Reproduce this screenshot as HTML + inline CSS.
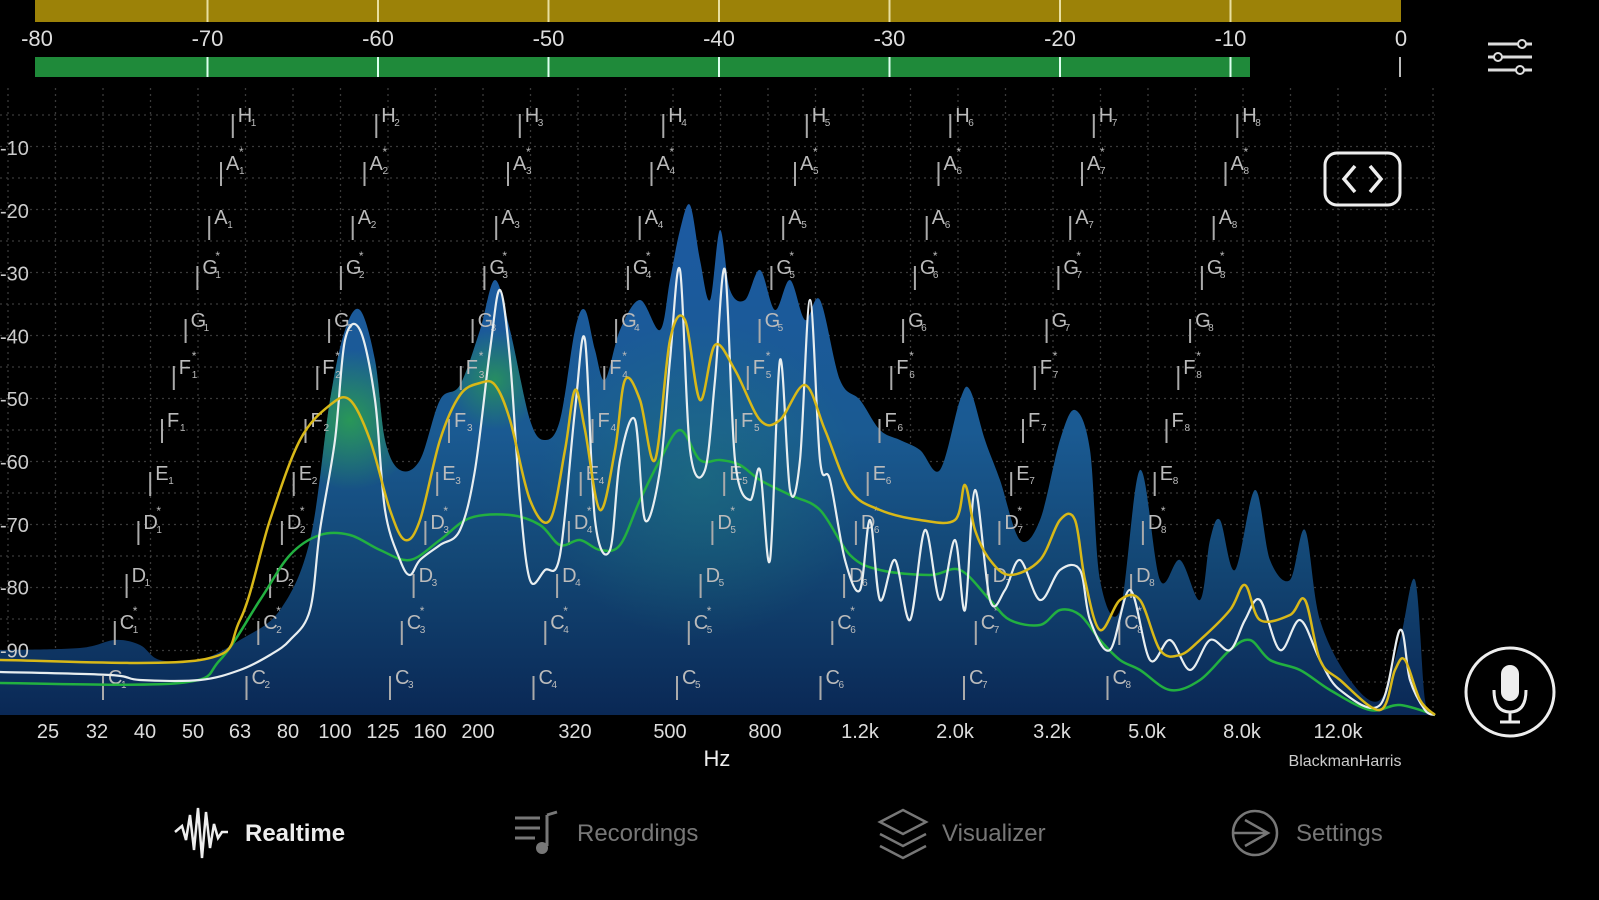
<!DOCTYPE html>
<html><head><meta charset="utf-8"><style>
html,body{margin:0;padding:0;background:#000;width:1599px;height:900px;overflow:hidden}
svg{display:block}
text{font-family:"Liberation Sans",sans-serif}
</style></head><body>
<svg id="s" width="1599" height="900" viewBox="0 0 1599 900" xmlns="http://www.w3.org/2000/svg">
<defs>
<linearGradient id="bg" x1="0" y1="200" x2="0" y2="715" gradientUnits="userSpaceOnUse">
<stop offset="0" stop-color="#1c5aa2"/><stop offset="0.45" stop-color="#1a5a92"/>
<stop offset="0.7" stop-color="#134775"/><stop offset="1" stop-color="#0a2855"/>
</linearGradient>
<radialGradient id="gr" cx="350" cy="420" r="70" gradientUnits="userSpaceOnUse">
<stop offset="0" stop-color="#2a9a55" stop-opacity="0.95"/><stop offset="1" stop-color="#2a9a55" stop-opacity="0"/>
</radialGradient>
<radialGradient id="gr2" cx="495" cy="380" r="50" gradientUnits="userSpaceOnUse">
<stop offset="0" stop-color="#2a9a55" stop-opacity="0.8"/><stop offset="1" stop-color="#2a9a55" stop-opacity="0"/>
</radialGradient>
<radialGradient id="gr3" cx="700" cy="480" r="160" gradientUnits="userSpaceOnUse">
<stop offset="0" stop-color="#1f7a7a" stop-opacity="0.5"/><stop offset="1" stop-color="#1f7a7a" stop-opacity="0"/>
</radialGradient>
<clipPath id="cp"><path id="cpp" d=""/></clipPath>
</defs>
<rect x="35" y="0" width="1366" height="22" fill="#9c8208"/>
<rect x="35" y="57" width="1215" height="20" fill="#1f8a3a"/>
<g id="g"></g>
</svg>
<script>
const NS="http://www.w3.org/2000/svg",G=document.getElementById('g');
function el(t,a,txt){const e=document.createElementNS(NS,t);for(const k in a)e.setAttribute(k,a[k]);if(txt!=null)e.textContent=txt;G.appendChild(e);return e;}
const ml=['-80','-70','-60','-50','-40','-30','-20','-10','0'];
ml.forEach((l,i)=>{const x=37+i*170.5;
 if(i>0&&i<8){el('line',{x1:x,y1:0,x2:x,y2:22,stroke:'#e8dfa0','stroke-width':2});el('line',{x1:x,y1:57,x2:x,y2:77,stroke:'#dfe','stroke-width':2});}
 el('text',{x:x,y:46,fill:'#ddd','font-size':22,'text-anchor':'middle'},l);});
el('line',{x1:1400,y1:57,x2:1400,y2:77,stroke:'#bbb','stroke-width':2});
for(let x=8;x<1435;x+=47.5)el('line',{x1:x,y1:88,x2:x,y2:715,stroke:'#3a3a3a','stroke-width':1.3,'stroke-dasharray':'2 4'});
for(let y=115;y<715;y+=31.5)el('line',{x1:0,y1:y,x2:1435,y2:y,stroke:'#3a3a3a','stroke-width':1.3,'stroke-dasharray':'2 4'});
function cr(p){let d='M'+p[0][0]+','+p[0][1];for(let i=0;i<p.length-1;i++){const a=p[Math.max(0,i-1)],b=p[i],c=p[i+1],e=p[Math.min(p.length-1,i+2)];
 d+=` C${b[0]+(c[0]-a[0])/6},${b[1]+(c[1]-a[1])/6} ${c[0]-(e[0]-b[0])/6},${c[1]-(e[1]-b[1])/6} ${c[0]},${c[1]}`;}return d;}
const blue=[[0,650],[80,648],[115,640],[140,645],[160,660],[200,660],[240,640],[280,610],[310,540],[330,400],[345,330],[360,310],[375,360],[385,440],[400,470],[420,460],[440,400],[460,385],[480,330],[495,280],[510,330],[530,420],[545,440],[560,420],[575,330],[585,310],[595,350],[605,380],[620,330],[640,300],[660,330],[670,280],[680,230],[690,205],[700,260],[710,300],[720,230],[730,290],[745,300],[760,270],[775,310],[790,280],[805,320],[820,300],[840,380],[860,400],[880,430],[900,440],[920,450],[940,470],[960,400],[970,390],[985,440],[1000,480],[1020,540],[1040,520],[1060,440],[1075,410],[1090,450],[1100,580],[1120,610],[1140,470],[1160,580],[1180,560],[1200,600],[1210,540],[1220,520],[1235,570],[1255,490],[1270,560],[1290,580],[1305,530],[1320,620],[1350,680],[1380,700],[1400,640],[1415,580],[1425,700],[1435,715]];
const bd=cr(blue)+' L1435,715 L0,715 Z';
document.getElementById('cpp').setAttribute('d',bd);
el('path',{d:bd,fill:'url(#bg)'});
el('rect',{x:0,y:88,width:1435,height:630,fill:'url(#gr3)','clip-path':'url(#cp)'});
el('rect',{x:0,y:88,width:1435,height:630,fill:'url(#gr)','clip-path':'url(#cp)'});
el('rect',{x:0,y:88,width:1435,height:630,fill:'url(#gr2)','clip-path':'url(#cp)'});
const nm=['C','C#','D','D#','E','F','F#','G','G#','A','A#','H'];
const ny=[672,617,570,517,468,415,362,315,262,212,158,110];
for(let o=1;o<=8;o++){for(let s=0;s<12;s++){const x=105+(o-1)*143.5+s*11.8,y=ny[s];
 el('line',{x1:x-2,y1:y+4,x2:x-2,y2:y+28,stroke:'#aaa','stroke-width':2});
 const n=nm[s];el('text',{x:x+3,y:y+12,fill:'#bbb','font-size':20},n[0]);
 el('text',{x:x+16,y:y+16,fill:'#bbb','font-size':10},o);
 if(n.length>1)el('text',{x:x+16,y:y-2,fill:'#bbb','font-size':12},'*');}}
for(let i=1;i<=9;i++)el('text',{x:0,y:155+(i-1)*62.8,fill:'#ccc','font-size':20},'-'+i*10);
const yel=[[0,660],[200,660],[240,620],[270,520],[300,440],[330,405],[350,400],[370,440],[390,510],[405,540],[420,520],[440,440],[460,395],[480,383],[495,385],[510,420],[530,500],[550,520],[565,450],[575,390],[585,430],[600,510],[615,450],[625,380],[640,400],[655,460],[670,340],[685,320],[700,400],[715,345],[735,370],[760,420],[780,420],[805,385],[825,430],[850,490],[880,510],[920,520],[955,520],[965,485],[975,530],[990,560],[1010,575],[1040,560],[1060,520],[1075,520],[1085,580],[1100,630],[1120,600],[1140,600],[1160,650],[1180,655],[1200,640],[1230,610],[1245,585],[1260,620],[1290,615],[1305,600],[1320,660],[1340,680],[1380,710],[1395,670],[1405,660],[1420,700],[1435,715]];
const grn=[[0,683],[180,683],[220,660],[260,600],[290,555],[320,535],[350,535],[380,550],[410,560],[440,540],[470,518],[510,515],[540,525],[560,545],[580,540],[600,550],[620,545],[640,500],[660,460],[680,430],[700,460],[720,460],[740,465],[760,480],[790,495],[820,510],[850,555],[880,570],[930,575],[960,570],[990,600],[1010,620],[1040,625],[1060,610],[1080,615],[1100,640],[1120,660],[1140,670],[1170,690],[1200,680],[1230,650],[1250,640],[1270,660],[1300,670],[1330,690],[1370,710],[1400,705],[1435,715]];
const wht=[[0,672],[110,675],[140,680],[200,680],[240,670],[270,655],[290,640],[310,610],[320,530],[335,440],[345,340],[360,330],[375,400],[385,510],[400,560],[410,575],[420,560],[440,545],[460,530],[475,470],[490,350],[500,290],[510,360],[520,500],[530,580],[545,570],[560,555],[575,410],[585,340],[595,520],[610,550],[620,460],[635,420],[645,520],[660,470],[670,360],[680,270],[690,450],[705,470],[715,380],[725,270],[735,460],[750,500],[760,470],[770,560],[780,360],[790,490],[800,460],[810,300],[820,460],[830,480],[845,560],[860,590],[870,520],[880,600],[895,560],[910,620],[925,530],[940,600],[955,540],[965,610],[975,490],[990,600],[1005,590],[1020,560],[1040,600],[1060,570],[1080,570],[1090,620],[1110,650],[1130,590],[1150,660],[1170,640],[1190,670],[1210,640],[1230,650],[1245,620],[1260,600],[1280,650],[1300,620],[1320,660],[1340,690],[1380,705],[1400,630],[1410,680],[1425,710],[1435,715]];
el('path',{d:cr(grn),fill:'none',stroke:'#22b040','stroke-width':2.5});
el('path',{d:cr(wht),fill:'none',stroke:'#e8eef0','stroke-width':2.2});
el('path',{d:cr(yel),fill:'none',stroke:'#d8b818','stroke-width':2.5});
[['25',48],['32',97],['40',145],['50',193],['63',240],['80',288],['100',335],['125',383],['160',430],['200',478],['320',575],['500',670],['800',765],['1.2k',860],['2.0k',955],['3.2k',1052],['5.0k',1147],['8.0k',1242],['12.0k',1338]].forEach(([t,x])=>el('text',{x:x,y:738,fill:'#ddd','font-size':20,'text-anchor':'middle'},t));
el('text',{x:717,y:766,fill:'#eee','font-size':22,'text-anchor':'middle'},'Hz');
el('text',{x:1345,y:766,fill:'#ccc','font-size':16,'text-anchor':'middle'},'BlackmanHarris');
for(let i=0;i<3;i++){const y=44+i*13;el('line',{x1:1488,y1:y,x2:1532,y2:y,stroke:'#ddd','stroke-width':3});el('circle',{cx:[1522,1498,1520][i],cy:y,r:4,fill:'#000',stroke:'#ddd','stroke-width':2});}
el('rect',{x:1325,y:153,width:75,height:52,rx:12,fill:'none',stroke:'#eee','stroke-width':3});
el('path',{d:'M1355,166 L1344,179 L1355,192 M1370,166 L1381,179 L1370,192',fill:'none',stroke:'#eee','stroke-width':3.5});
el('circle',{cx:1510,cy:692,r:44,fill:'none',stroke:'#eee','stroke-width':3});
el('rect',{x:1501,y:665,width:18,height:36,rx:9,fill:'#eee'});
el('path',{d:'M1494,690 Q1494,712 1510,712 Q1526,712 1526,690 M1510,712 L1510,722 M1500,722 L1520,722',fill:'none',stroke:'#eee','stroke-width':3});
let wp='M175,832';[[182,826],[186,840],[190,815],[194,850],[198,808],[202,858],[206,812],[210,848],[214,824],[218,838],[222,832],[228,832]].forEach(p=>wp+=' L'+p);
el('path',{d:wp,fill:'none',stroke:'#eee','stroke-width':2.5});
el('text',{x:245,y:841,fill:'#eee','font-size':24,'font-weight':'bold'},'Realtime');
el('path',{d:'M515,818 L540,818 M515,828 L540,828 M515,838 L535,838 M547,815 L547,846 M547,815 L557,812',fill:'none',stroke:'#777','stroke-width':3});
el('circle',{cx:542,cy:848,r:6,fill:'#777'});
el('text',{x:577,y:841,fill:'#777','font-size':24},'Recordings');
el('path',{d:'M880,822 L903,810 L926,822 L903,834 Z M880,834 L903,846 L926,834 M880,846 L903,858 L926,846',fill:'none',stroke:'#777','stroke-width':2.5});
el('text',{x:942,y:841,fill:'#777','font-size':24},'Visualizer');
el('circle',{cx:1255,cy:833,r:22,fill:'none',stroke:'#777','stroke-width':2.5});
el('path',{d:'M1245,820 L1268,833 L1245,846 M1233,833 L1268,833',fill:'none',stroke:'#777','stroke-width':2.5});
el('text',{x:1296,y:841,fill:'#777','font-size':24},'Settings');
</script>
</body></html>
